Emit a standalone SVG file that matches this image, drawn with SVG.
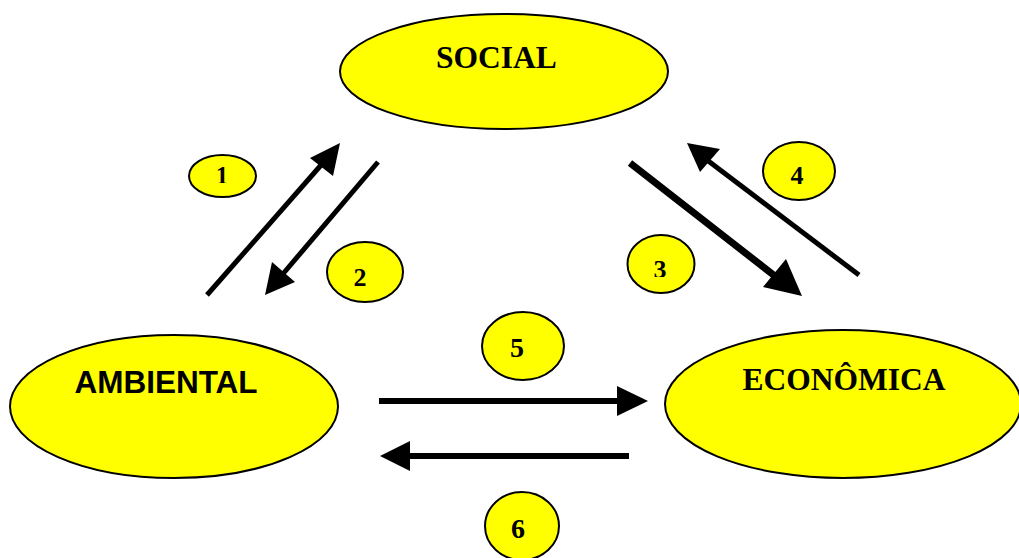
<svg xmlns="http://www.w3.org/2000/svg" width="1019" height="558" viewBox="0 0 1019 558">
<style>
.big{fill:#ffff00;stroke:#000;stroke-width:2}
.sm{fill:#ffff00;stroke:#000;stroke-width:2}
.ts{font-family:"Liberation Serif",serif;font-weight:bold;fill:#000;text-anchor:middle}
.ta{font-family:"Liberation Sans",sans-serif;font-weight:bold;fill:#000;text-anchor:middle}
.ln{stroke:#000;fill:none}
.hd{fill:#000}
</style>
<defs>
<clipPath id="c1"><rect x="180" y="140" width="90" height="43"/></clipPath>
<clipPath id="c2"><rect x="320" y="240" width="90" height="46"/></clipPath>
<clipPath id="c3"><rect x="620" y="230" width="90" height="47"/></clipPath>
<clipPath id="c4"><rect x="760" y="140" width="90" height="44"/></clipPath>
</defs>
<rect width="1019" height="558" fill="#fff"/>
<g id="connectors">
<line class="ln" x1="207" y1="295" x2="322" y2="164" stroke-width="5"/>
<polygon class="hd" points="340,143 310,158 333,176"/>
<line class="ln" x1="378" y1="162" x2="282" y2="275" stroke-width="5"/>
<polygon class="hd" points="265,295 272,262 295,282"/>
<line class="ln" x1="630" y1="163" x2="780" y2="280" stroke-width="7"/>
<polygon class="hd" points="802,296 763,287 786,259"/>
<line class="ln" x1="859" y1="275" x2="707" y2="160" stroke-width="5"/>
<polygon class="hd" points="687,143 700,172 720,149"/>
<line class="ln" x1="379" y1="401" x2="620" y2="401" stroke-width="6"/>
<polygon class="hd" points="648,401 617,386 617,416"/>
<line class="ln" x1="629" y1="456" x2="405" y2="456" stroke-width="6"/>
<polygon class="hd" points="380,456 410,441 410,471"/>
</g>
<g id="social">
<ellipse class="big" cx="504" cy="71.5" rx="164" ry="57.5"/>
<text class="ts" x="496.5" y="68" font-size="31.5">SOCIAL</text>
</g>
<g id="ambiental">
<ellipse class="big" cx="174" cy="406.5" rx="164" ry="71.5"/>
<text class="ta" x="166" y="393" font-size="31.5">AMBIENTAL</text>
</g>
<g id="economica">
<ellipse class="big" cx="843" cy="404" rx="178" ry="74"/>
<text class="ts" x="844" y="390" font-size="31.5">ECONÔMICA</text>
</g>
<g id="n1">
<ellipse class="sm" cx="222.5" cy="176" rx="33.5" ry="21"/>
<text class="ts" x="222" y="184" font-size="25" clip-path="url(#c1)">1</text>
</g>
<g id="n2">
<ellipse class="sm" cx="365" cy="272" rx="38" ry="30"/>
<text class="ts" x="360" y="286" font-size="26" clip-path="url(#c2)">2</text>
</g>
<g id="n3">
<ellipse class="sm" cx="661" cy="264" rx="33.5" ry="29"/>
<text class="ts" x="660" y="278" font-size="26" clip-path="url(#c3)">3</text>
</g>
<g id="n4">
<ellipse class="sm" cx="799" cy="171" rx="36" ry="29"/>
<text class="ts" x="797" y="184" font-size="26" clip-path="url(#c4)">4</text>
</g>
<g id="n5">
<ellipse class="sm" cx="523" cy="346" rx="41" ry="34"/>
<text class="ts" x="517" y="357" font-size="28">5</text>
</g>
<g id="n6">
<ellipse class="sm" cx="522" cy="526" rx="37" ry="34"/>
<text class="ts" x="518" y="538" font-size="28">6</text>
</g>
</svg>
